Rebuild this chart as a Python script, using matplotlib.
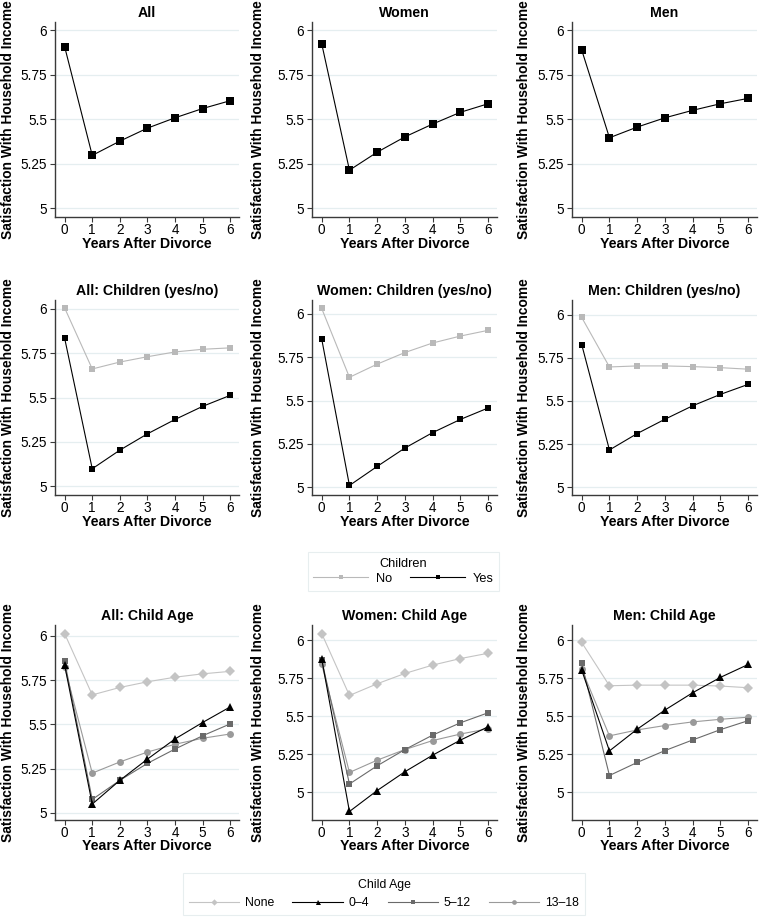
import matplotlib
matplotlib.use("Agg")
import matplotlib.pyplot as plt
from matplotlib.lines import Line2D
from matplotlib.transforms import Bbox, TransformedBbox

plt.rcParams["font.family"] = ["Liberation Sans", "DejaVu Sans"]

years = [0, 1, 2, 3, 4, 5, 6]

# row 1: overall
all_total = [5.906, 5.296, 5.376, 5.449, 5.507, 5.559, 5.603]
women_total = [5.923, 5.213, 5.314, 5.400, 5.472, 5.538, 5.586]
men_total = [5.888, 5.395, 5.455, 5.507, 5.549, 5.586, 5.616]

# row 2: children yes/no
all_no = [6.005, 5.661, 5.700, 5.730, 5.757, 5.772, 5.780]
all_yes = [5.834, 5.098, 5.203, 5.295, 5.376, 5.450, 5.512]
women_no = [6.031, 5.634, 5.710, 5.777, 5.832, 5.872, 5.905]
women_yes = [5.855, 5.010, 5.120, 5.226, 5.315, 5.391, 5.457]
men_no = [5.984, 5.697, 5.703, 5.703, 5.699, 5.693, 5.684]
men_yes = [5.827, 5.216, 5.311, 5.394, 5.472, 5.538, 5.596]

# row 3: child age
all_none = [6.013, 5.667, 5.709, 5.741, 5.767, 5.786, 5.800]
all_0_4 = [5.835, 5.050, 5.184, 5.304, 5.418, 5.511, 5.599]
all_5_12 = [5.856, 5.076, 5.184, 5.280, 5.361, 5.436, 5.503]
all_13_18 = [5.824, 5.225, 5.288, 5.344, 5.388, 5.422, 5.446]
women_none = [6.044, 5.636, 5.713, 5.781, 5.836, 5.879, 5.914]
women_0_4 = [5.877, 4.872, 5.010, 5.134, 5.243, 5.342, 5.430]
women_5_12 = [5.870, 5.053, 5.173, 5.280, 5.375, 5.456, 5.522]
women_13_18 = [5.842, 5.129, 5.210, 5.280, 5.339, 5.382, 5.417]
men_none = [5.985, 5.700, 5.704, 5.704, 5.704, 5.698, 5.687]
men_0_4 = [5.803, 5.271, 5.414, 5.540, 5.654, 5.755, 5.840]
men_5_12 = [5.847, 5.109, 5.195, 5.273, 5.343, 5.411, 5.470]
men_13_18 = [5.808, 5.370, 5.409, 5.438, 5.462, 5.479, 5.493]

yticks = [5, 5.25, 5.5, 5.75, 6]
ytick_labels = ["5", "5.25", "5.5", "5.75", "6"]

LIGHT = "#b9b9b9"
DARK = "#6a6a6a"
MID = "#9a9a9a"
BLACK = "#000000"
GRID = "#e5eef0"
AXIS = "#3a3a3a"

W, H = 760, 917
fig = plt.figure(figsize=(W / 100, H / 100), dpi=100)
fig.patch.set_facecolor("white")

col_left = [55, 312, 572]
col_width = [184, 185, 185]
row_top = [22, 300, 625]
row_height = 195
# vertical strip (px from top) each row's y label may use, like the stata sub-graphs
row_clip = [(0, 917), (262, 519), (560, 917)]


def make_ax(r, c, title, ylim, ylab_off):
    x0 = col_left[c] / W
    y0 = 1 - (row_top[r] + row_height) / H
    ax = fig.add_axes([x0, y0, col_width[c] / W, row_height / H])
    ax.set_xlim(-0.35, 6.32)
    ax.set_ylim(*ylim)
    ax.set_xticks(years)
    ax.set_yticks(yticks)
    ax.set_yticklabels(ytick_labels)
    for s in ["top", "right"]:
        ax.spines[s].set_visible(False)
    for s in ["left", "bottom"]:
        ax.spines[s].set_color(AXIS)
        ax.spines[s].set_linewidth(1.0)
    ax.tick_params(axis="both", colors=AXIS, labelcolor="black", labelsize=9.8,
                   length=3.6, width=0.8, direction="out")
    ax.tick_params(axis="x", pad=1.0)
    ax.tick_params(axis="y", pad=2.0)
    ax.grid(axis="y", color=GRID, linewidth=0.9)
    ax.set_axisbelow(True)
    ax.set_title(title, fontsize=10.2, fontweight="bold", pad=3.5)
    ax.set_xlabel("Years After Divorce", fontsize=10.2, fontweight="bold")
    ax.xaxis.set_label_coords(0.5, -0.1)
    ax.set_ylabel("Satisfaction With Household Income", fontsize=9.9, fontweight="bold")
    ax.yaxis.set_label_coords(-ylab_off / col_width[c], 0.5)
    top, bot = row_clip[r]
    clip = Bbox([[0, 1 - bot / H], [1, 1 - top / H]])
    ax.yaxis.label.set_clip_box(TransformedBbox(clip, fig.transFigure))
    ax.yaxis.label.set_clip_on(True)
    return ax


def plot_line(ax, y, color, marker, ms, zorder=3):
    ax.plot(years, y, color=color, marker=marker, markersize=ms, linewidth=0.8,
            markeredgewidth=0, zorder=zorder, clip_on=False)


# row 1
row1 = [("All", all_total, 40), ("Women", women_total, 47), ("Men", men_total, 41)]
for c, (t, vals, off) in enumerate(row1):
    ax = make_ax(0, c, t, (4.95, 6.045), off)
    plot_line(ax, vals, BLACK, "s", 5.2)

# row 2
row2 = [("All: Children (yes/no)", all_no, all_yes, (4.95, 6.05), 40),
        ("Women: Children (yes/no)", women_no, women_yes, (4.955, 6.08), 47),
        ("Men: Children (yes/no)", men_no, men_yes, (4.955, 6.085), 41)]
for c, (t, no, yes, yl, off) in enumerate(row2):
    ax = make_ax(1, c, t, yl, off)
    plot_line(ax, no, LIGHT, "s", 4.6)
    plot_line(ax, yes, BLACK, "s", 4.8)

# row 3
row3 = [("All: Child Age", all_none, all_0_4, all_5_12, all_13_18, (4.96, 6.062), 40),
        ("Women: Child Age", women_none, women_0_4, women_5_12, women_13_18, (4.816, 6.1), 47),
        ("Men: Child Age", men_none, men_0_4, men_5_12, men_13_18, (4.816, 6.1), 41)]
for c, (t, none, a, b, d, yl, off) in enumerate(row3):
    ax = make_ax(2, c, t, yl, off)
    plot_line(ax, none, "#c4c4c4", "D", 4.8)
    plot_line(ax, d, MID, "o", 5.0)
    plot_line(ax, b, DARK, "s", 4.8)
    plot_line(ax, a, BLACK, "^", 5.2)

# legend: children
h_children = [Line2D([], [], color=LIGHT, marker="s", markersize=3.2, linewidth=0.8, markeredgewidth=0),
              Line2D([], [], color=BLACK, marker="s", markersize=3.2, linewidth=0.8, markeredgewidth=0)]
leg1 = fig.legend(h_children, ["No", "Yes"], title="Children", ncol=2, loc="center",
                  bbox_to_anchor=(403.5 / W, 1 - 571.5 / H), fontsize=9.2, title_fontsize=9.2,
                  handlelength=4.3, handletextpad=0.6, columnspacing=1.4, borderpad=0.45,
                  fancybox=False, edgecolor="#e2eaec", frameon=True, labelspacing=0.2)
leg1.get_frame().set_linewidth(0.8)

# legend: child age
h_age = [Line2D([], [], color="#c4c4c4", marker="D", markersize=3.2, linewidth=0.8, markeredgewidth=0),
         Line2D([], [], color=BLACK, marker="^", markersize=3.6, linewidth=0.8, markeredgewidth=0),
         Line2D([], [], color=DARK, marker="s", markersize=3.2, linewidth=0.8, markeredgewidth=0),
         Line2D([], [], color=MID, marker="o", markersize=3.4, linewidth=0.8, markeredgewidth=0)]
leg2 = fig.legend(h_age, ["None", "0\u20134", "5\u201312", "13\u201318"], title="Child Age",
                  ncol=4, loc="center", bbox_to_anchor=(384 / W, 1 - 894 / H), fontsize=8.8,
                  title_fontsize=8.8, handlelength=4.1, handletextpad=0.5, columnspacing=1.5,
                  borderpad=0.45, fancybox=False, edgecolor="#e2eaec", frameon=True)
leg2.get_frame().set_linewidth(0.8)

fig.savefig("out.png", dpi=100, facecolor="white")
